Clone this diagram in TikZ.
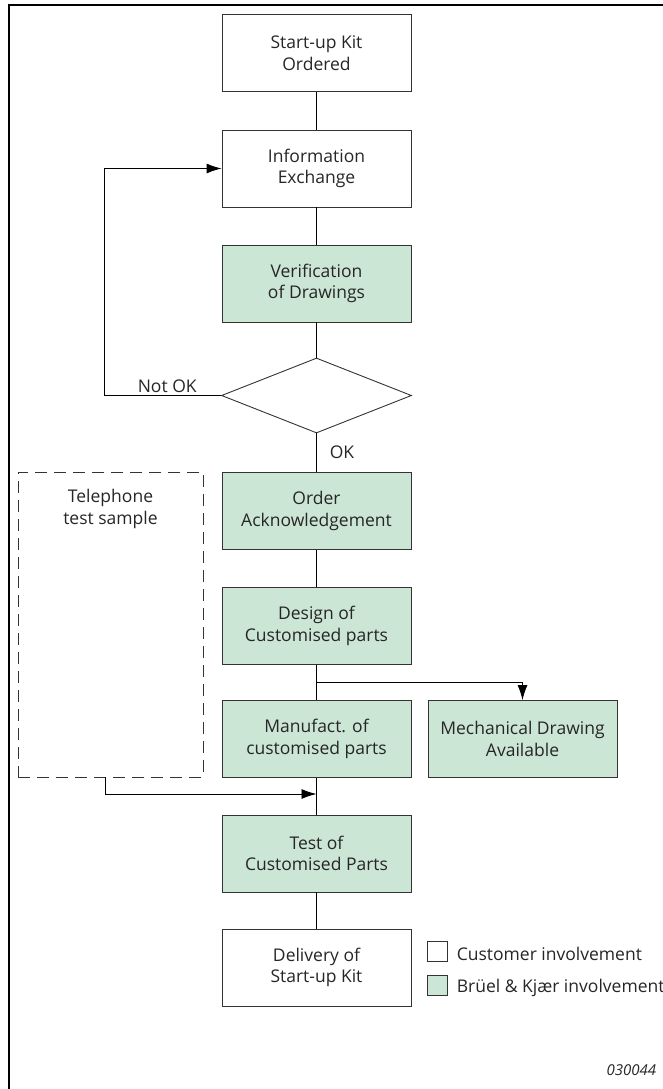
\documentclass[tikz,border=0pt]{standalone}
\usepackage{fontspec}
\setmainfont{Open Sans}
\usetikzlibrary{shapes.geometric,arrows.meta}
\definecolor{bkgreen}{RGB}{204,230,213}
\begin{document}
\begin{tikzpicture}[x=1pt,y=-1pt,line width=0.9pt,
  txt/.style={text=black!85, font=\fontsize{17.5}{21.5}\selectfont},
  box/.style={txt, draw=black!80, minimum width=189pt, minimum height=77pt, inner sep=0pt, align=center},
  bkbox/.style={box, fill=bkgreen},
  flow/.style={-{Latex[length=15pt,width=10pt]}},
  legbox/.style={draw=black!80, minimum size=20pt, inner sep=0pt}]
\useasboundingbox (0,0) rectangle (663,1089);
% frame
\draw[line width=2.5pt] (9,1089) |- (663,5);
% main column
\node[box] (start) at (316.5,53) {Start-up Kit\\Ordered};
\node[box] (info) at (316.5,168.5) {Information\\Exchange};
\node[bkbox] (verif) at (316.5,283.5) {Verification\\of Drawings};
\node[diamond, draw=black!80, minimum width=190pt, minimum height=75pt, inner sep=0pt] (check) at (316.5,395.5) {};
\node[bkbox] (order) at (316.5,511) {Order\\Acknowledgement};
\node[bkbox] (design) at (316.5,626) {Design of\\Customised parts};
\node[bkbox] (manuf) at (316.5,739) {Manufact. of\\customised parts};
\node[bkbox] (mech) at (522.5,739) {Mechanical Drawing\\Available};
\node[bkbox] (test) at (316.5,853.5) {Test of\\Customised Parts};
\node[box] (deliv) at (316.5,967.5) {Delivery of\\Start-up Kit};
% telephone sample
\node[draw=black!80, dash pattern=on 12pt off 7pt, minimum width=185pt, minimum height=305pt] (phone) at (110.5,624.5) {};
\node[txt, align=center] (phonetxt) at (110.5,509) {Telephone\\test sample};
% labels
\node[txt, anchor=base west] (notok) at (134,392) {Not OK};
\node[txt, anchor=base west] (ok) at (326,458) {OK};
\coordinate (split) at (316.5,682);
\coordinate (join) at (316.5,794);
% connectors
\draw[](start) -- (info);
\draw[](info) -- (verif);
\draw[](verif) -- (check);
\draw[flow](check.west) -- ++(-116.5,0) |- (info.west);
\draw[](check) -- (order);
\draw[](order) -- (design);
\draw[](design) -- (manuf);
\draw[flow](split) -| (mech.north);
\draw[flow]([xshift=-5.5pt]phone.south) |- (join);
\draw[](manuf) -- (test);
\draw[](test) -- (deliv);
% legend
\node[legbox] (legcust) at (437.5,951.5) {};
\node[legbox, fill=bkgreen] (legbk) at (437.5,985) {};
\node[txt, anchor=base west] (legcusttxt) at (453,960) {Customer involvement};
\node[txt, anchor=base west] (legbktxt) at (453,992) {Brüel \& Kjær involvement};
\node[text=black!85, anchor=base east, font=\fontsize{15}{17}\selectfont\itshape] (code) at (660,1075) {030044};
\end{tikzpicture}
\end{document}
